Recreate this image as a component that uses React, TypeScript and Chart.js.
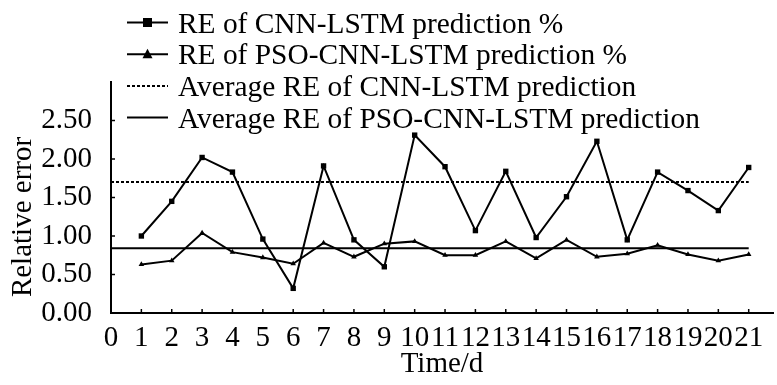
import { useEffect, useRef } from 'react';
import { Chart, registerables } from 'chart.js';

Chart.register(...registerables);

const FONT = "'Liberation Serif', 'Times New Roman', serif";
const FS = 29;
const LEGEND_FS = 29.4;

const days = [1, 2, 3, 4, 5, 6, 7, 8, 9, 10, 11, 12, 13, 14, 15, 16, 17, 18, 19, 20, 21];
const cnnLstm = [1.0, 1.45, 2.02, 1.83, 0.96, 0.32, 1.91, 0.95, 0.6, 2.31, 1.9, 1.07, 1.84, 0.98, 1.51, 2.23, 0.95, 1.83, 1.59, 1.33, 1.89];
const psoCnnLstm = [0.63, 0.68, 1.04, 0.79, 0.72, 0.64, 0.91, 0.73, 0.9, 0.93, 0.75, 0.75, 0.93, 0.71, 0.95, 0.73, 0.77, 0.88, 0.76, 0.68, 0.76];
const avgCnnLstm = 1.7;
const avgPsoCnnLstm = 0.84;
const avgRange = [0, 21];

const xTickValues = [0, 1, 2, 3, 4, 5, 6, 7, 8, 9, 10, 11, 12, 13, 14, 15, 16, 17, 18, 19, 20, 21];
const yTickValues = [0, 0.5, 1.0, 1.5, 2.0, 2.5];

const legendLabels = [
  'RE of CNN-LSTM prediction %',
  'RE of PSO-CNN-LSTM prediction %',
  'Average RE of CNN-LSTM prediction',
  'Average RE of PSO-CNN-LSTM prediction',
];
const xTitle = 'Time/d';
const yTitle = 'Relative error';

const decor = {
  id: 'decor',
  afterDraw(chart: any) {
    const { ctx, scales, chartArea } = chart;
    const x = scales.x;
    const y = scales.y;
    ctx.save();
    ctx.strokeStyle = '#000';
    ctx.fillStyle = '#000';
    ctx.lineWidth = 1.5;
    // inward tick marks
    xTickValues.forEach((v) => {
      if (v === 0) return;
      const px = x.getPixelForValue(v);
      ctx.beginPath();
      ctx.moveTo(px, chartArea.bottom);
      ctx.lineTo(px, chartArea.bottom - 4);
      ctx.stroke();
    });
    yTickValues.forEach((v) => {
      if (v === 0) return;
      const py = y.getPixelForValue(v);
      ctx.beginPath();
      ctx.moveTo(chartArea.left, py);
      ctx.lineTo(chartArea.left + 4, py);
      ctx.stroke();
    });

    // y title
    ctx.save();
    ctx.font = `${FS}px ${FONT}`;
    ctx.translate(23, 217);
    ctx.rotate(-Math.PI / 2);
    ctx.textAlign = 'center';
    ctx.textBaseline = 'middle';
    ctx.fillText(yTitle, 0, 0);
    ctx.restore();

    // legend
    const x0 = 127;
    const x1 = 168;
    const mx = (x0 + x1) / 2;
    legendLabels.forEach((label, i) => {
      const ry = 22.5 + i * 31.7;
      ctx.save();
      ctx.lineWidth = 2;
      ctx.setLineDash(i === 2 ? [3, 2] : []);
      ctx.beginPath();
      ctx.moveTo(x0, ry);
      ctx.lineTo(x1, ry);
      ctx.stroke();
      ctx.setLineDash([]);
      if (i === 0) {
        ctx.fillRect(mx - 4.5, ry - 4.5, 9, 9);
      } else if (i === 1) {
        ctx.beginPath();
        ctx.moveTo(mx, ry - 5.5);
        ctx.lineTo(mx + 5, ry + 4);
        ctx.lineTo(mx - 5, ry + 4);
        ctx.closePath();
        ctx.fill();
      }
      ctx.font = `${LEGEND_FS}px ${FONT}`;
      ctx.textAlign = 'left';
      ctx.textBaseline = 'alphabetic';
      ctx.fillText(label, 178, ry + 10);
      ctx.restore();
    });
    ctx.restore();
  },
};

export default function App() {
  const ref = useRef<HTMLCanvasElement>(null);
  useEffect(() => {
    const chart = new Chart(ref.current as HTMLCanvasElement, {
      type: 'line',
      data: {
        datasets: [
          {
            label: legendLabels[0],
            data: days.map((d, i) => ({ x: d, y: cnnLstm[i] })),
            borderColor: '#000',
            backgroundColor: '#000',
            borderWidth: 2,
            pointStyle: 'rect',
            pointRadius: 3.8,
            pointBorderWidth: 0,
            tension: 0,
          },
          {
            label: legendLabels[1],
            data: days.map((d, i) => ({ x: d, y: psoCnnLstm[i] })),
            borderColor: '#000',
            backgroundColor: '#000',
            borderWidth: 2,
            pointStyle: 'triangle',
            pointRadius: 3.2,
            pointBorderWidth: 0,
            tension: 0,
          },
          {
            label: legendLabels[2],
            data: avgRange.map((d) => ({ x: d, y: avgCnnLstm })),
            borderColor: '#000',
            borderWidth: 2,
            borderDash: [3, 2],
            pointRadius: 0,
          },
          {
            label: legendLabels[3],
            data: avgRange.map((d) => ({ x: d, y: avgPsoCnnLstm })),
            borderColor: '#000',
            borderWidth: 2,
            pointRadius: 0,
          },
        ],
      },
      options: {
        responsive: false,
        animation: false,
        layout: { padding: { top: 82, left: 0, right: 0, bottom: 0 } },
        plugins: {
          legend: { display: false },
          tooltip: { enabled: false },
        },
        scales: {
          x: {
            type: 'linear',
            min: 0,
            max: 21.8,
            grid: { display: false },
            border: { display: true, color: '#000', width: 2 },
            afterFit: (s: any) => {
              s.height = 72;
            },
            afterBuildTicks: (s: any) => {
              s.ticks = xTickValues.map((v) => ({ value: v }));
            },
            ticks: {
              autoSkip: false,
              maxRotation: 0,
              minRotation: 0,
              padding: 0,
              color: '#000',
              font: { family: FONT, size: FS },
              callback: (v: any) => String(v),
            },
            title: {
              display: true,
              text: xTitle,
              color: '#000',
              font: { family: FONT, size: FS },
              padding: { top: 0, bottom: 3 },
            },
          },
          y: {
            type: 'linear',
            min: 0,
            max: 3,
            grid: { display: false },
            border: { display: true, color: '#000', width: 2 },
            afterFit: (s: any) => {
              s.width = 111;
            },
            afterBuildTicks: (s: any) => {
              s.ticks = yTickValues.map((v) => ({ value: v }));
            },
            ticks: {
              padding: 11,
              color: '#000',
              font: { family: FONT, size: FS },
              callback: (v: any) => Number(v).toFixed(2),
            },
          },
        },
      },
      plugins: [decor],
    });
    return () => chart.destroy();
  }, []);
  return (
    <div style={{ position: 'absolute', left: 0, top: 0, width: 777, height: 385, background: '#fff' }}>
      <canvas ref={ref} width={777} height={385} style={{ display: 'block' }} />
    </div>
  );
}
